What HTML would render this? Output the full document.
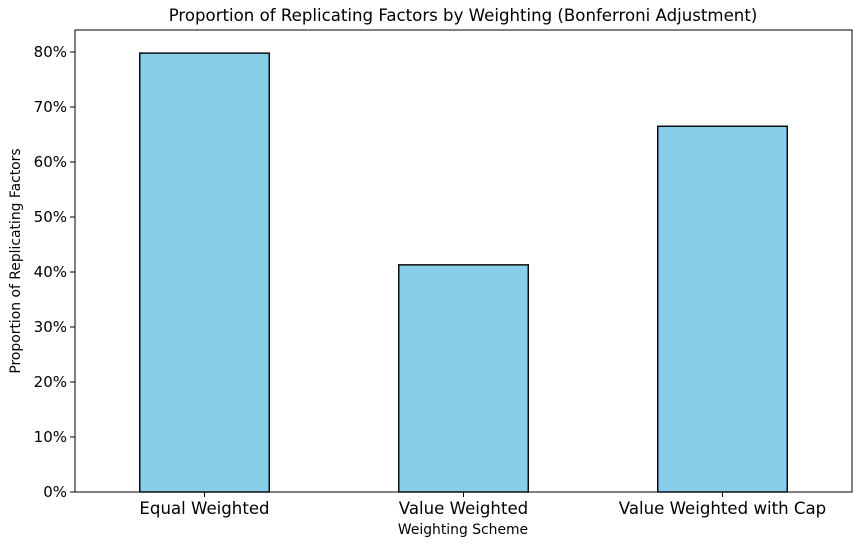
<!DOCTYPE html>
<html><head><meta charset="utf-8"><style>
body{margin:0;background:#fff;}
svg{display:block;font-family:"DejaVu Sans","Liberation Sans",sans-serif;}
</style></head><body>
<svg id="chart" width="861" height="546">
<text x="463" y="21" text-anchor="middle" font-size="16.6">Proportion of Replicating Factors by Weighting (Bonferroni Adjustment)</text>
<g id="yticks"></g><g id="bars"></g><g id="xticks"></g>
<rect x="75" y="30" width="777" height="462" fill="none" stroke="#000" stroke-width="1"/>
<text x="463" y="534" text-anchor="middle" font-size="13.9">Weighting Scheme</text>
<text transform="translate(20,261) rotate(-90)" text-anchor="middle" font-size="13.9">Proportion of Replicating Factors</text>
</svg>
<script>
const categories=["Equal Weighted","Value Weighted","Value Weighted with Cap"];
const values=[0.798,0.413,0.665];
const yTickValues=[0,0.1,0.2,0.3,0.4,0.5,0.6,0.7,0.8];
const yTickLabels=["0%","10%","20%","30%","40%","50%","60%","70%","80%"];
const NS="http://www.w3.org/2000/svg";
const L=75,R=852,T=30,B=492,yMax=0.84;
const y=v=>B-(v/yMax)*(B-T);
const x=i=>L+(i+0.5)*(R-L)/categories.length;
const bw=0.5*(R-L)/categories.length;
function mk(tag,attrs,parent){const e=document.createElementNS(NS,tag);for(const k in attrs)e.setAttribute(k,attrs[k]);parent.appendChild(e);return e;}
const yt=document.getElementById('yticks'),bg=document.getElementById('bars'),xt=document.getElementById('xticks');
yTickValues.forEach((v,i)=>{
 const l=mk('line',{x1:L-5,x2:L,y1:y(v),y2:y(v),stroke:'#000'},yt);
 
 
 const t=mk('text',{x:L-8,y:y(v)+5,'text-anchor':'end','font-size':15},yt);
 t.textContent=yTickLabels[i];
 
 
});
categories.forEach((c,i)=>{
 const r=mk('rect',{x:x(i)-bw/2,y:y(values[i]),width:bw,height:B-y(values[i]),fill:'#87ceeb',stroke:'#000','stroke-width':1.4},bg);
 
 
 const l=mk('line',{x1:x(i),x2:x(i),y1:B,y2:B+5,stroke:'#000'},xt);
 
 
 const t=mk('text',{x:x(i),y:B+22,'text-anchor':'middle','font-size':16.6},xt);
 t.textContent=c;
 
 
});
</script>
</body></html>
